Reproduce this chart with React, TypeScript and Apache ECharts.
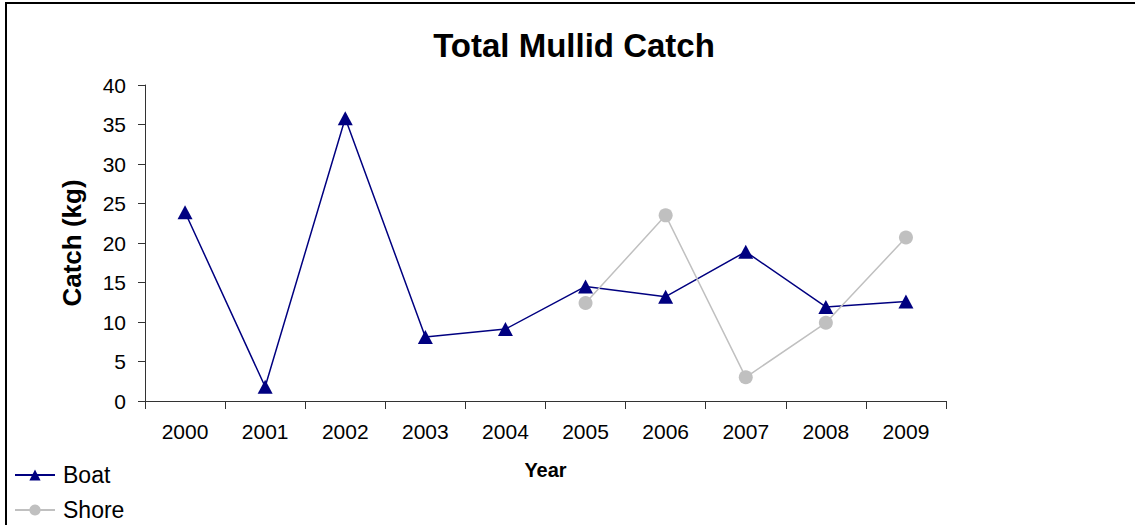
import React, { useEffect, useRef } from "react";
import * as echarts from "echarts";

const years = ["2000", "2001", "2002", "2003", "2004", "2005", "2006", "2007", "2008", "2009"];
const boat = [23.9, 1.8, 35.8, 8.1, 9.1, 14.5, 13.2, 18.9, 11.9, 12.6];
const shore = [null, null, null, null, null, 12.4, 23.5, 3.0, 9.9, 20.7];
const titleText = "Total Mullid Catch";
const FONT = 'Arial, "Liberation Sans", sans-serif';

export default function App() {
  const ref = useRef<HTMLDivElement>(null);
  useEffect(() => {
    if (!ref.current) return;
    const chart = echarts.init(ref.current, null, { renderer: "svg" });
    chart.setOption({
      animation: false,
      backgroundColor: "#ffffff",
      textStyle: { fontFamily: FONT },
      grid: { left: 145, right: 189, top: 85, bottom: 124, containLabel: false },
      graphic: [
        { type: "line", shape: { x1: 5, y1: 3, x2: 1135, y2: 3 }, style: { stroke: "#000", lineWidth: 2 } },
        { type: "line", shape: { x1: 6, y1: 3, x2: 6, y2: 525 }, style: { stroke: "#000", lineWidth: 2 } },
        {
          type: "text",
          x: 574,
          y: 45,
          style: {
            text: titleText,
            fontFamily: FONT,
            fontSize: 33,
            fontWeight: "bold",
            fill: "#000",
            textAlign: "center",
            textVerticalAlign: "middle",
          },
        },
      ],
      legend: {
        orient: "vertical",
        left: 14,
        top: 463,
        padding: 0,
        itemWidth: 40,
        itemHeight: 14,
        itemGap: 11,
        data: ["Boat", "Shore"],
        textStyle: { fontFamily: FONT, fontSize: 23, color: "#000", lineHeight: 24, padding: [0, 0, 0, 3] },
      },
      xAxis: {
        type: "category",
        data: years,
        boundaryGap: true,
        name: "Year",
        nameLocation: "middle",
        nameGap: 59,
        nameTextStyle: { fontFamily: FONT, fontSize: 20, fontWeight: "bold", color: "#000" },
        axisLine: { lineStyle: { color: "#333", width: 1 } },
        axisTick: { show: true, length: 8, lineStyle: { color: "#333" } },
        axisLabel: { fontFamily: FONT, fontSize: 21, color: "#000", margin: 20 },
        splitLine: { show: false },
      },
      yAxis: {
        type: "value",
        min: 0,
        max: 40,
        interval: 5,
        name: "Catch (kg)",
        nameLocation: "middle",
        nameRotate: 90,
        nameGap: 60,
        nameTextStyle: { fontFamily: FONT, fontSize: 26, fontWeight: "bold", color: "#000" },
        axisLine: { show: true, lineStyle: { color: "#333", width: 1 } },
        axisTick: { show: true, length: 7, lineStyle: { color: "#333" } },
        axisLabel: { fontFamily: FONT, fontSize: 21, color: "#000", margin: 19 },
        splitLine: { show: false },
      },
      series: [
        {
          name: "Boat",
          type: "line",
          data: boat,
          symbol: "triangle",
          symbolSize: [15, 14],
          itemStyle: { color: "#000080" },
          lineStyle: { color: "#000080", width: 1.5 },
        },
        {
          name: "Shore",
          type: "line",
          data: shore,
          symbol: "circle",
          symbolSize: 14,
          itemStyle: { color: "#c0c0c0" },
          lineStyle: { color: "#c0c0c0", width: 1.5 },
        },
      ],
    });
    return () => chart.dispose();
  }, []);
  return (
    <div
      ref={ref}
      style={{ position: "fixed", left: 0, top: 0, width: 1135, height: 525, background: "#fff" }}
    />
  );
}
